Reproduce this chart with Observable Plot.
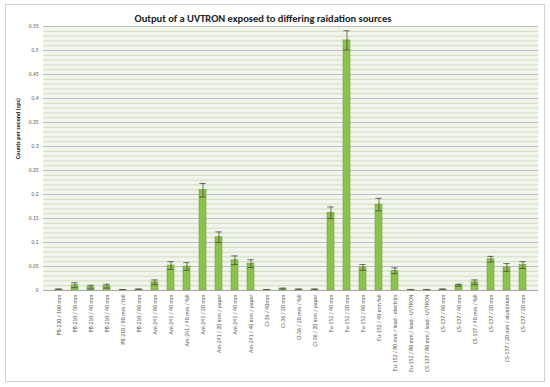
<!DOCTYPE html>
<html>
<head>
<meta charset="utf-8">
<script src="https://cdn.jsdelivr.net/npm/d3@7"></script>
<script src="https://cdn.jsdelivr.net/npm/@observablehq/plot@0.6"></script>
<style>
  html, body { margin: 0; padding: 0; background: #ffffff; }
  #wrap { position: relative; width: 550px; height: 387px; overflow: hidden; font-family: Carlito, Lato, "Open Sans", sans-serif; }
  #border { position: absolute; left: 5px; top: 4px; width: 538px; height: 376px; border: 1px solid #d0d0d0; box-sizing: content-box; }
  #wrap svg { position: absolute; left: 0; top: 0; }
</style>
</head>
<body>
<div id="wrap"><div id="border"></div></div>
<script>
const title = "Output of a UVTRON exposed to differing raidation sources";
const yTitle = "Counts per second (cps)";
const labels = [
  "PB-210 / 100 mm", "PB-210 / 50 mm", "PB-210 / 40 mm", "PB-210 / 40 mm",
  "PB-210 / 80 mm / foil", "PB-210 / 80 mm", "Am-241 / 80 mm", "Am-241 / 40 mm",
  "Am-241 / 40 mm / foil", "Am-241 / 20 mm", "Am-241 / 20 mm / paper", "Am-241 / 40 mm",
  "Am-241 / 40 mm / paper", "Cl-36 / 40mm", "Cl-36 / 20 mm", "Cl-36 / 20 mm / foil",
  "Cl-36 / 20 mm / paper", "Eu-152 / 40 mm", "Eu-152 / 20 mm", "Eu-152 / 80 mm",
  "Eu-152 / 40 mm foil", "Eu-152 / 80 mm / lead - electrics", "Eu-152 / 80 mm / lead - UVTRON",
  "CS-137 / 80 mm / lead - UVTRON", "CS-137 / 80 mm", "CS-137 / 40 mm", "CS-137 / 40 mm / foil",
  "CS-137 / 20 mm", "CS-137 / 20 mm / aluminium", "CS-137 / 20 mm"
];
const values = [
  0.002, 0.011, 0.007, 0.009, 0.001, 0.002, 0.017, 0.052,
  0.050, 0.209, 0.111, 0.063, 0.056, 0.001, 0.003, 0.002,
  0.002, 0.162, 0.521, 0.048, 0.179, 0.041, 0.001,
  0.001, 0.002, 0.011, 0.017, 0.065, 0.048, 0.053
];
const errors = [
  0.001, 0.005, 0.004, 0.004, 0.001, 0.001, 0.005, 0.008,
  0.008, 0.014, 0.011, 0.009, 0.008, 0.001, 0.002, 0.001,
  0.001, 0.012, 0.020, 0.006, 0.013, 0.006, 0.001,
  0.001, 0.001, 0.002, 0.005, 0.006, 0.008, 0.007
];
const yTicks = [0, 0.05, 0.1, 0.15, 0.2, 0.25, 0.3, 0.35, 0.4, 0.45, 0.5, 0.55];
const minorTicks = d3.range(0, 56).map(i => i / 100);

const data = labels.map((l, i) => ({i, label: l, v: values[i], lo: values[i] - errors[i], hi: values[i] + errors[i]}));

const font = "Carlito, Lato, 'Open Sans', sans-serif";

const chart = Plot.plot({
  width: 550,
  height: 387,
  marginTop: 26,
  marginBottom: 97,
  marginLeft: 43,
  marginRight: 12,
  style: {fontFamily: font, fontSize: "5.5px", color: "#595959", background: "transparent"},
  x: {type: "band", domain: d3.range(labels.length), padding: 0.56, label: null},
  y: {domain: [0, 0.55], label: null},
  marks: [
    Plot.frame({fill: "#f1f5ec", stroke: null}),
    Plot.ruleY(minorTicks, {stroke: "#d5e2c6", strokeWidth: 1.2}),
    Plot.ruleY(yTicks, {stroke: "#bdbdbd", strokeWidth: 1}),
    Plot.barY(data, {x: "i", y: "v", fill: "#8dc04d", stroke: "#74a63a", strokeWidth: 0.6}),
    Plot.ruleX(data, {x: "i", y1: "lo", y2: "hi", stroke: "#3a3a3a", strokeWidth: 0.7}),
    Plot.tickY(data, {x: "i", y: "hi", stroke: "#3a3a3a", strokeWidth: 0.7, insetLeft: 6.7, insetRight: 6.7}),
    Plot.tickY(data, {x: "i", y: "lo", stroke: "#3a3a3a", strokeWidth: 0.7, insetLeft: 6.7, insetRight: 6.7}),
    Plot.ruleY([0], {stroke: "#a6a6a6", strokeWidth: 1}),
    Plot.axisY({ticks: yTicks, tickSize: 0, tickPadding: 5, fontSize: 5.5, tickFormat: d => d === 0 ? "0" : String(+d.toFixed(2)), label: null}),
    Plot.axisX({tickSize: 0, tickPadding: 4, tickRotate: -90, fontSize: 5.8, tickFormat: i => labels[i], label: null}),
    Plot.text([title], {frameAnchor: "top", dx: -28, dy: -12, fontSize: 10.5, fontWeight: "bold", fill: "#222", text: d => d}),
    Plot.text([yTitle], {frameAnchor: "left", textAnchor: "middle", dx: -25, dy: -30, rotate: -90, fontSize: 6.2, fontWeight: "bold", fill: "#222", text: d => d})
  ]
});
document.getElementById("wrap").appendChild(chart);
</script>
</body>
</html>
